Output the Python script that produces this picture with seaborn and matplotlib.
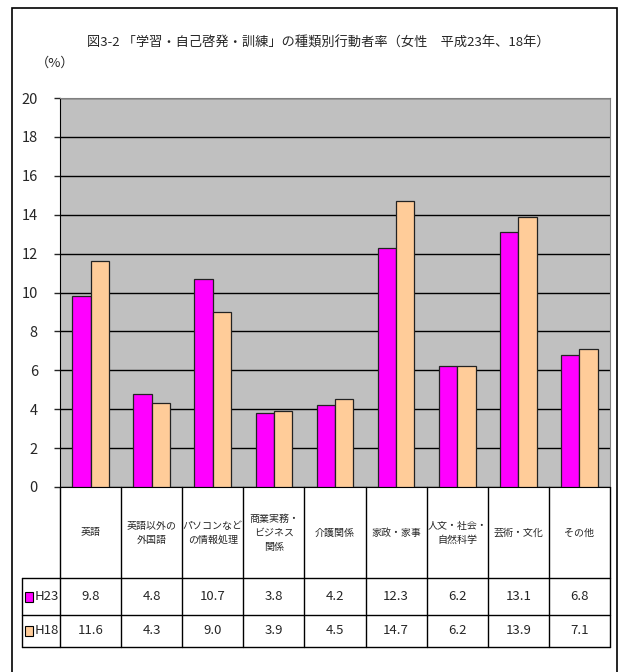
import matplotlib
matplotlib.use("Agg")
import matplotlib.pyplot as plt
from matplotlib.lines import Line2D
from matplotlib.patches import Rectangle
import seaborn as sns
import pandas as pd

categories = ["英語", "英語以外の\n外国語", "パソコンなど\nの情報処理", "商業実務・\nビジネス\n関係",
              "介護関係", "家政・家事", "人文・社会・\n自然科学", "芸術・文化", "その他"]
series = ["H23", "H18"]
h23 = [9.8, 4.8, 10.7, 3.8, 4.2, 12.3, 6.2, 13.1, 6.8]
h18 = [11.6, 4.3, 9.0, 3.9, 4.5, 14.7, 6.2, 13.9, 7.1]
colors = ["#FF00FF", "#FFCC99"]

sns.set_style("white")
plt.rcParams['font.family'] = ['Noto Sans CJK JP', 'DejaVu Sans']

W, H = 621, 672
fig = plt.figure(figsize=(W / 100, H / 100), dpi=100)

def fx(x):
    return x / W

def fy(y):
    return 1 - y / H

# plot area in pixel coords
x0, x1, ytop, ybot = 60, 610, 98, 487
ax = fig.add_axes([fx(x0), fy(ybot), fx(x1) - fx(x0), fy(ytop) - fy(ybot)])

df = pd.DataFrame({
    "cat": categories * 2,
    "series": [series[0]] * len(categories) + [series[1]] * len(categories),
    "value": h23 + h18,
})
sns.barplot(data=df, x="cat", y="value", hue="series", palette=colors, ax=ax,
            width=0.6, gap=0, saturation=1, edgecolor="#222222", linewidth=0.9,
            legend=False, zorder=3)

ax.set_facecolor("#C0C0C0")
ax.set_ylim(0, 20)
ax.set_xlim(-0.5, len(categories) - 0.5)
ax.set_yticks(range(0, 21, 2))
ax.set_yticklabels([str(v) for v in range(0, 21, 2)], fontsize=10.5)
ax.set_xticks([])
ax.set_xlabel("")
ax.set_ylabel("")
ax.grid(axis="y", color="black", linewidth=1, zorder=0)
ax.set_axisbelow(True)
ax.tick_params(axis="y", direction="out", length=4, width=1, pad=12, left=True)
for s in ["top", "right"]:
    ax.spines[s].set_color("#808080")
ax.spines["left"].set_color("black")
ax.spines["bottom"].set_color("black")

fig.text(fx(318), fy(43), "図3-2 「学習・自己啓発・訓練」の種類別行動者率（女性　平成23年、18年）",
         ha="center", va="center", fontsize=9.5)
fig.text(fx(55), fy(63), "（%）", ha="center", va="center", fontsize=9.5)

# data table under the chart
col_w = (x1 - x0) / len(categories)
r_cat, r1, r2, r_end = ybot, 578, 615, 647
leg_x = 22

def hline(y, xa, xb):
    fig.add_artist(Line2D([fx(xa), fx(xb)], [fy(y), fy(y)], color="black", lw=1))

def vline(x, ya, yb):
    fig.add_artist(Line2D([fx(x), fx(x)], [fy(ya), fy(yb)], color="black", lw=1))

hline(r1, leg_x, x1)
hline(r2, leg_x, x1)
hline(r_end, leg_x, x1)
vline(leg_x, r1, r_end)
for i in range(len(categories) + 1):
    vline(x0 + i * col_w, r_cat, r_end)

for i, c in enumerate(categories):
    cx = x0 + (i + 0.5) * col_w
    fig.text(fx(cx), fy((r_cat + r1) / 2), c, ha="center", va="center",
             fontsize=7.2, linespacing=1.5)
    fig.text(fx(cx), fy((r1 + r2) / 2), f"{h23[i]:.1f}", ha="center", va="center", fontsize=9.5)
    fig.text(fx(cx), fy((r2 + r_end) / 2), f"{h18[i]:.1f}", ha="center", va="center", fontsize=9.5)

for name, col, (ya, yb) in zip(series, colors, [(r1, r2), (r2, r_end)]):
    yc = (ya + yb) / 2
    fig.add_artist(Rectangle((fx(25), fy(yc + 5)), fx(8), fy(yc - 5) - fy(yc + 5),
                             facecolor=col, edgecolor="black", lw=0.8))
    fig.text(fx(35), fy(yc), name, ha="left", va="center", fontsize=9.5)

# outer frame
fig.add_artist(Rectangle((fx(12), fy(680)), fx(617) - fx(12), fy(8) - fy(680),
                         fill=False, edgecolor="black", lw=1.2))

fig.savefig("out.png", dpi=100)
